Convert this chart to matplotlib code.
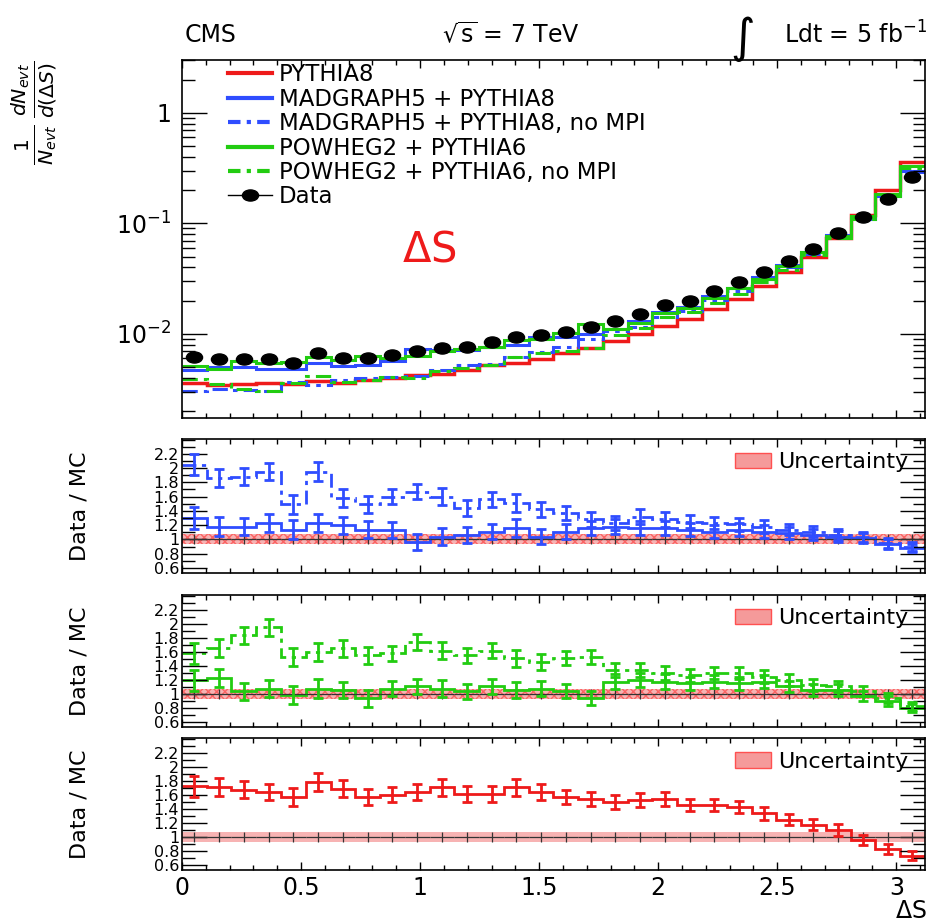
import numpy as np
import matplotlib
matplotlib.use("Agg")
import matplotlib.pyplot as plt
from matplotlib.markers import MarkerStyle
from matplotlib.transforms import Affine2D
from matplotlib.patches import Patch
from matplotlib.lines import Line2D
from matplotlib.ticker import MultipleLocator, LogLocator, FuncFormatter, NullFormatter, FixedLocator

plt.rcParams["font.family"] = ["DejaVu Sans"]

# binning of delta S (30 bins)
x_max = 3.12
n_bins = 30

# normalised data distribution (main panel)
data_vals = [0.0062, 0.0059, 0.0059, 0.0059, 0.0055, 0.0067, 0.0061, 0.0060, 0.0065, 0.0070,
             0.0075, 0.0076, 0.0084, 0.0093, 0.0098, 0.0105, 0.0115, 0.0130, 0.0152, 0.0184,
             0.0200, 0.0247, 0.0298, 0.0367, 0.0455, 0.059, 0.082, 0.114, 0.167, 0.263]

# Data / MC ratios
r_mg5 = [1.30, 1.18, 1.18, 1.23, 1.135, 1.23, 1.20, 1.135, 1.135, 0.96,
         1.04, 1.065, 1.11, 1.16, 1.04, 1.11, 1.16, 1.18, 1.16, 1.16,
         1.135, 1.11, 1.135, 1.11, 1.09, 1.065, 1.04, 1.02, 0.93, 0.88]
r_mg5_nompi = [2.05, 1.86, 1.88, 1.95, 1.49, 1.95, 1.58, 1.49, 1.60, 1.67,
               1.60, 1.44, 1.56, 1.51, 1.42, 1.37, 1.28, 1.23, 1.32, 1.28,
               1.25, 1.23, 1.21, 1.18, 1.135, 1.11, 1.065, 1.04, 0.95, 0.90]
r_pw = [1.20, 1.23, 1.04, 1.08, 0.99, 1.08, 1.06, 0.94, 1.08, 1.11,
        1.08, 1.04, 1.11, 1.06, 1.08, 1.04, 0.94, 1.18, 1.20, 1.18,
        1.155, 1.18, 1.155, 1.18, 1.11, 1.06, 1.06, 0.97, 0.90, 0.80]
r_pw_nompi = [1.58, 1.66, 1.84, 1.95, 1.53, 1.60, 1.65, 1.55, 1.58, 1.74,
              1.62, 1.55, 1.62, 1.51, 1.46, 1.51, 1.53, 1.34, 1.34, 1.30,
              1.27, 1.30, 1.30, 1.25, 1.20, 1.13, 1.11, 1.04, 0.94, 0.83]
r_py8 = [1.73, 1.715, 1.68, 1.645, 1.575, 1.785, 1.69, 1.575, 1.61, 1.645,
         1.715, 1.62, 1.62, 1.715, 1.645, 1.575, 1.55, 1.50, 1.53, 1.55,
         1.46, 1.46, 1.43, 1.34, 1.25, 1.18, 1.105, 0.96, 0.84, 0.74]

# error bars on ratios and data uncertainty band around 1
ratio_err = [0.15, 0.13, 0.12, 0.12, 0.13, 0.13, 0.12, 0.12, 0.11, 0.11,
             0.12, 0.11, 0.11, 0.12, 0.11, 0.10, 0.10, 0.10, 0.10, 0.10,
             0.09, 0.09, 0.09, 0.09, 0.08, 0.08, 0.08, 0.07, 0.07, 0.06]
unc_band = [0.07, 0.07, 0.07, 0.07, 0.07, 0.07, 0.07, 0.07, 0.07, 0.07,
            0.07, 0.07, 0.07, 0.07, 0.07, 0.07, 0.07, 0.07, 0.07, 0.07,
            0.07, 0.07, 0.07, 0.07, 0.07, 0.07, 0.07, 0.07, 0.07, 0.07]
ratio_ticks = [0.6, 0.8, 1.0, 1.2, 1.4, 1.6, 1.8, 2.0, 2.2]

RED = "#ee1a1a"
BLUE = "#2f4dff"
GREEN = "#22cc11"
DASH = (0, (5, 2, 1.5, 2))

edges = np.linspace(0, x_max, n_bins + 1)
centers = 0.5 * (edges[:-1] + edges[1:])
data = np.array(data_vals)

# wide ellipse markers
dot = MarkerStyle("o", transform=Affine2D().scale(1.45, 1.0))

fig = plt.figure(figsize=(9.38, 9.24), dpi=100)


def style_ax(ax, xmajor_len, ymajor_len):
    ax.tick_params(which="both", direction="in", top=True, right=True, width=1.0)
    ax.tick_params(axis="x", which="major", length=xmajor_len)
    ax.tick_params(axis="x", which="minor", length=xmajor_len * 0.55)
    ax.tick_params(axis="y", which="major", length=ymajor_len)
    ax.tick_params(axis="y", which="minor", length=ymajor_len * 0.5)
    ax.xaxis.set_major_locator(MultipleLocator(0.5))
    ax.xaxis.set_minor_locator(MultipleLocator(0.1))
    for s in ax.spines.values():
        s.set_linewidth(1.2)


# ---- main panel
ax = fig.add_axes([0.194, 0.548, 0.792, 0.387])
ax.set_yscale("log")
ax.stairs(data / np.array(r_py8), edges, baseline=None, color=RED, lw=2.5)
ax.stairs(data / np.array(r_mg5), edges, baseline=None, color=BLUE, lw=2.2)
ax.stairs(data / np.array(r_mg5_nompi), edges, baseline=None, color=BLUE, lw=2.2, linestyle=DASH)
ax.stairs(data / np.array(r_pw), edges, baseline=None, color=GREEN, lw=2.2)
ax.stairs(data / np.array(r_pw_nompi), edges, baseline=None, color=GREEN, lw=2.2, linestyle=DASH)
ax.plot(centers, data, linestyle="none", marker=dot, ms=8, color="black")
ax.set_xlim(0, x_max)
ax.set_ylim(1.75e-3, 3.0)
style_ax(ax, 6, 18)
ax.yaxis.set_major_locator(LogLocator(base=10))
ax.yaxis.set_minor_locator(LogLocator(base=10, subs=np.arange(2, 10)))
ax.yaxis.set_minor_formatter(NullFormatter())
ax.yaxis.set_major_formatter(FuncFormatter(lambda v, p: "1" if abs(v - 1) < 1e-9 else r"$10^{%d}$" % round(np.log10(v))))
ax.tick_params(axis="y", labelsize=17, pad=8)
ax.set_xticklabels([])

handles = [Line2D([], [], color=RED, lw=3),
           Line2D([], [], color=BLUE, lw=3),
           Line2D([], [], color=BLUE, lw=3, linestyle=(0, (3, 1.5, 1, 1.5))),
           Line2D([], [], color=GREEN, lw=3),
           Line2D([], [], color=GREEN, lw=3, linestyle=(0, (3, 1.5, 1, 1.5))),
           Line2D([], [], color="black", lw=1, marker=dot, ms=8)]
labels = ["PYTHIA8", "MADGRAPH5 + PYTHIA8", "MADGRAPH5 + PYTHIA8, no MPI",
          "POWHEG2 + PYTHIA6", "POWHEG2 + PYTHIA6, no MPI", "Data"]
ax.legend(handles, labels, loc="upper left", bbox_to_anchor=(0.058, 1.0), frameon=False,
          fontsize=16.5, handlelength=1.9, handletextpad=0.3, labelspacing=0.06,
          borderaxespad=0.0, borderpad=0.15)
ax.text(0.296, 0.47, r"$\Delta$S", transform=ax.transAxes, color=RED, fontsize=30,
        ha="left", va="center")
ax.set_ylabel(r"$\frac{1}{N_{evt}}\,\frac{dN_{evt}}{d(\Delta S)}$", fontsize=21, loc="top")
ax.yaxis.set_label_coords(-0.165, 1.0)

fig.text(0.197, 0.962, "CMS", fontsize=17, ha="left", va="center")
fig.text(0.545, 0.962, r"$\sqrt{\mathrm{s}}$ = 7 TeV", fontsize=17, ha="center", va="center")
fig.text(0.792, 0.958, "\u222b", fontsize=34, ha="center", va="center")
fig.text(0.988, 0.962, r"Ldt = 5 fb$^{-1}$", fontsize=17, ha="right", va="center")

# ---- ratio panels
panels = [
    ([0.194, 0.380, 0.792, 0.145], [(r_mg5, BLUE, "-"), (r_mg5_nompi, BLUE, DASH)]),
    ([0.194, 0.213, 0.792, 0.143], [(r_pw, GREEN, "-"), (r_pw_nompi, GREEN, DASH)]),
    ([0.194, 0.058, 0.792, 0.143], [(r_py8, RED, "-")]),
]
band = np.array(unc_band)
for i, (rect, series) in enumerate(panels):
    rax = fig.add_axes(rect)
    rax.stairs(1 + band, edges, baseline=1 - band, fill=True, color="#f59a9a", alpha=0.75, lw=0)
    if i < 2:
        rax.stairs(1 + band, edges, baseline=1 - band, fill=False, hatch="xxxx",
                   edgecolor="#ff3030", lw=0, alpha=0.6)
    rax.errorbar(centers, np.ones(n_bins), xerr=0.5 * (edges[1] - edges[0]), yerr=band,
                 fmt="none", ecolor="#333333", elinewidth=0.9, capsize=0)
    for vals, col, ls in series:
        rax.stairs(vals, edges, baseline=None, color=col, lw=2.0, linestyle=ls)
        rax.errorbar(centers, vals, yerr=ratio_err, fmt="none", ecolor=col, elinewidth=2.0,
                     capsize=3.5, capthick=2.0)
    rax.set_xlim(0, x_max)
    rax.set_ylim(0.53, 2.41)
    style_ax(rax, 6, 18)
    rax.yaxis.set_major_locator(FixedLocator(ratio_ticks))
    rax.yaxis.set_minor_locator(MultipleLocator(0.1))
    rax.yaxis.set_major_formatter(FuncFormatter(lambda v, p: "%g" % round(v, 1)))
    rax.tick_params(axis="y", labelsize=11.5, pad=2)
    rax.set_ylabel("Data / MC", fontsize=16)
    rax.yaxis.set_label_coords(-0.125, 0.5)
    unc_handle = Patch(facecolor="#f59a9a", edgecolor="#ff5050")
    rax.legend([unc_handle], ["Uncertainty"], loc="upper right", frameon=False, fontsize=16,
               handlelength=1.6, handleheight=0.7, handletextpad=0.3,
               borderaxespad=0.2, bbox_to_anchor=(0.995, 1.0))
    if i < 2:
        rax.set_xticklabels([])
    else:
        rax.xaxis.set_major_formatter(FuncFormatter(lambda v, p: "%g" % v))
        rax.tick_params(axis="x", labelsize=17, pad=4)

fig.text(0.988, 0.001, r"$\Delta$S", fontsize=17, ha="right", va="bottom")

fig.savefig("out.png", dpi=100)
